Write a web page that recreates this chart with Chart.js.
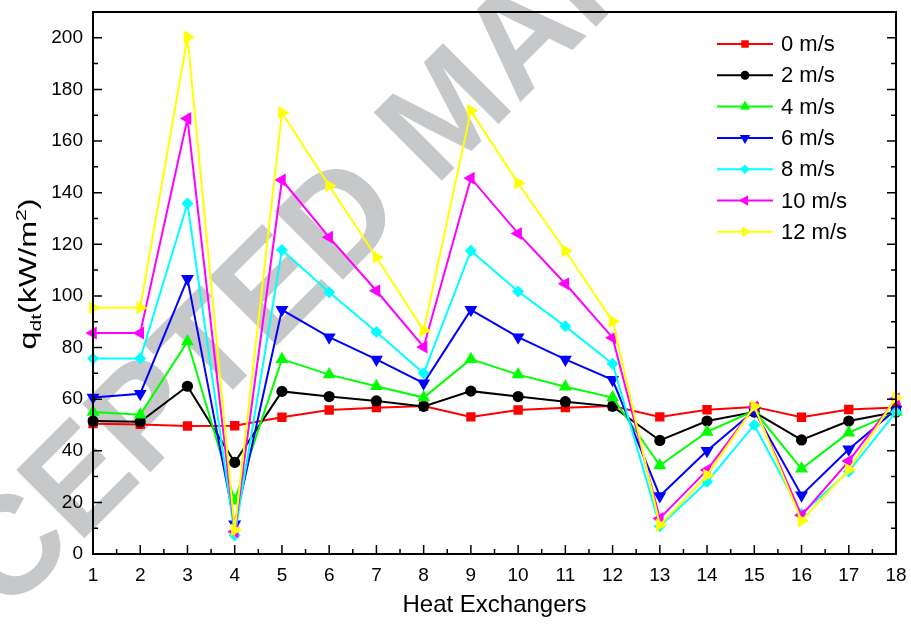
<!DOCTYPE html>
<html>
<head>
<meta charset="utf-8">
<style>
  body { margin: 0; background: #fff; }
</style>
</head>
<body>
<div>
    <canvas id="myChart" width="911" height="624"></canvas>
</div>

<script src="https://cdn.jsdelivr.net/npm/chart.js"></script>

<script>
    // heat exchanger numbers on the x axis
    const exchangers = ['1', '2', '3', '4', '5', '6', '7', '8', '9', '10', '11', '12', '13', '14', '15', '16', '17', '18'];
    const speeds = ['0 m/s', '2 m/s', '4 m/s', '6 m/s', '8 m/s', '10 m/s', '12 m/s'];

    // q_dt values (kW/m2)
    const q0 = [50.5, 50.2, 49.6, 49.7, 53.0, 55.8, 56.7, 57.3, 53.1, 55.8, 56.7, 57.3, 53.1, 55.9, 57.0, 53.0, 56.0, 56.8];
    const q2 = [51.5, 51.2, 65.0, 35.5, 63.0, 61.0, 59.3, 57.2, 63.1, 61.0, 59.0, 57.2, 44.0, 51.5, 55.0, 44.2, 51.5, 55.0];
    const q4 = [55.0, 54.0, 82.3, 20.6, 75.5, 69.5, 65.0, 60.6, 75.5, 69.5, 64.8, 60.6, 34.3, 47.3, 55.5, 33.0, 47.0, 55.0];
    const q6 = [60.6, 62.1, 106.6, 11.5, 94.6, 84.0, 75.4, 66.2, 94.6, 84.0, 75.4, 67.5, 22.5, 40.0, 55.5, 22.8, 40.6, 56.0];
    const q8 = [75.7, 75.7, 135.8, 7.3, 117.8, 101.4, 86.0, 70.0, 117.5, 101.7, 88.2, 73.7, 10.8, 28.0, 50.0, 15.5, 32.0, 55.0];
    const q10 = [85.6, 85.6, 168.7, 8.6, 144.9, 122.7, 102.0, 80.2, 145.6, 124.2, 104.7, 83.8, 13.8, 32.5, 57.0, 15.0, 36.0, 60.2];
    const q12 = [95.4, 95.4, 200.3, 9.3, 171.0, 142.7, 115.0, 86.6, 171.7, 143.7, 117.5, 90.2, 11.2, 30.5, 57.2, 12.9, 32.7, 60.6];

    const yTicks = [0, 20, 40, 60, 80, 100, 120, 140, 160, 180, 200];

    const series = [q0, q2, q4, q6, q8, q10, q12];
    const colors = ['#ff0000', '#000000', '#00ff00', '#0000ff', '#00ffff', '#ff00ff', '#ffff00'];
    const markers = [
        { style: 'rect', rot: 0, r: 6.6 },
        { style: 'circle', rot: 0, r: 5.6 },
        { style: 'triangle', rot: 0, r: 7.5 },
        { style: 'triangle', rot: 180, r: 7.5 },
        { style: 'rectRot', rot: 0, r: 6 },
        { style: 'triangle', rot: 270, r: 7.5 },
        { style: 'triangle', rot: 90, r: 7.5 }
    ];

    const FONT = '"Liberation Sans", Arial, sans-serif';

    // faint manuscript stamp behind everything
    const watermark = {
        id: 'watermark',
        beforeDraw(chart) {
            const c = chart.ctx;
            c.save();
            c.translate(452, 116);
            c.rotate(-Math.PI / 4);
            c.fillStyle = '#c7c8ca';
            c.font = 'bold 140px ' + FONT;
            c.textAlign = 'center';
            c.textBaseline = 'middle';
            c.fillText('ACCEPTED MANUSCRIPT', 0, 0);
            c.restore();
        }
    };

    // frame with inward ticks, y title and the legend
    const frame = {
        id: 'frame',
        afterDraw(chart) {
            const c = chart.ctx;
            const a = chart.chartArea;
            const xs = chart.scales.x;
            const ys = chart.scales.y;
            c.save();
            c.strokeStyle = '#000';
            c.lineWidth = 2;
            c.strokeRect(a.left, a.top, a.right - a.left, a.bottom - a.top);

            c.lineWidth = 1.5;
            c.beginPath();
            for (let i = 0; i < exchangers.length; i++) {
                const px = xs.getPixelForValue(i);
                c.moveTo(px, a.bottom);
                c.lineTo(px, a.bottom - 9);
                if (i < exchangers.length - 1) {
                    const mx = xs.getPixelForValue(i + 0.5);
                    c.moveTo(mx, a.bottom);
                    c.lineTo(mx, a.bottom - 5);
                }
            }
            for (let v = 0; v <= 210; v += 10) {
                const py = ys.getPixelForValue(v);
                const len = v % 20 === 0 ? 9 : 5;
                c.moveTo(a.left, py);
                c.lineTo(a.left + len, py);
                c.moveTo(a.right, py);
                c.lineTo(a.right - len, py);
            }
            c.stroke();

            // y title: q_dt(kW/m^2)
            c.translate(36, 274);
            c.rotate(-Math.PI / 2);
            c.scale(1.4, 1);
            c.fillStyle = '#000';
            c.textBaseline = 'alphabetic';
            const big = '23px ' + FONT;
            const small = '15px ' + FONT;
            const parts = [
                { t: 'q', f: big, dy: 0 },
                { t: 'dt', f: small, dy: 5 },
                { t: '(kW/m', f: big, dy: 0 },
                { t: '2', f: small, dy: -10 },
                { t: ')', f: big, dy: 0 }
            ];
            let total = 0;
            parts.forEach(p => { c.font = p.f; p.w = c.measureText(p.t).width; total += p.w; });
            let x = -total / 2;
            parts.forEach(p => { c.font = p.f; c.fillText(p.t, x, p.dy); x += p.w; });
            c.restore();

            // legend
            c.save();
            c.font = '22px ' + FONT;
            c.textBaseline = 'middle';
            c.textAlign = 'left';
            chart.data.datasets.forEach((ds, i) => {
                const y = 44 + i * 31.3;
                c.strokeStyle = ds.borderColor;
                c.fillStyle = ds.borderColor;
                c.lineWidth = 2;
                c.beginPath();
                c.moveTo(717, y);
                c.lineTo(773, y);
                c.stroke();
                Chart.helpers.drawPoint(c, {
                    pointStyle: markers[i].style,
                    rotation: markers[i].rot,
                    radius: markers[i].r * 0.8,
                    borderWidth: 0
                }, 745, y);
                c.fillStyle = '#000';
                c.fillText(ds.label, 781, y + 1);
            });
            c.restore();
        }
    };

    const data = {
        labels: exchangers,
        datasets: series.map((vals, i) => ({
            label: speeds[i],
            data: vals,
            borderColor: colors[i],
            backgroundColor: colors[i],
            borderWidth: 2,
            pointStyle: markers[i].style,
            pointRotation: markers[i].rot,
            pointRadius: markers[i].r,
            pointBorderWidth: 0,
            tension: 0,
            order: series.length - i
        }))
    };

    const config = {
        type: 'line',
        data: data,
        options: {
            responsive: false,
            animation: false,
            layout: { padding: { top: 12, right: 15, left: 0, bottom: 0 } },
            plugins: {
                legend: { display: false },
                tooltip: { enabled: false },
                title: { display: false }
            },
            scales: {
                x: {
                    type: 'category',
                    offset: false,
                    grid: { display: false, drawTicks: false },
                    border: { display: false },
                    ticks: {
                        color: '#000',
                        font: { family: FONT, size: 19 },
                        padding: 10,
                        maxRotation: 0,
                        autoSkip: false
                    },
                    title: {
                        display: true,
                        text: 'Heat Exchangers',
                        color: '#000',
                        font: { family: FONT, size: 24 },
                        padding: { top: 6 }
                    },
                    afterFit: s => { s.height = 70; s.paddingLeft = 0; s.paddingRight = 0; }
                },
                y: {
                    min: 0,
                    max: 210,
                    grid: { display: false, drawTicks: false },
                    border: { display: false },
                    afterBuildTicks: s => { s.ticks = yTicks.map(v => ({ value: v })); },
                    ticks: {
                        color: '#000',
                        font: { family: FONT, size: 19 },
                        padding: 10
                    },
                    afterFit: s => { s.width = 93; s.paddingTop = 0; s.paddingBottom = 0; }
                }
            }
        },
        plugins: [watermark, frame]
    };

    new Chart(document.getElementById('myChart'), config);
</script>
</body>
</html>
